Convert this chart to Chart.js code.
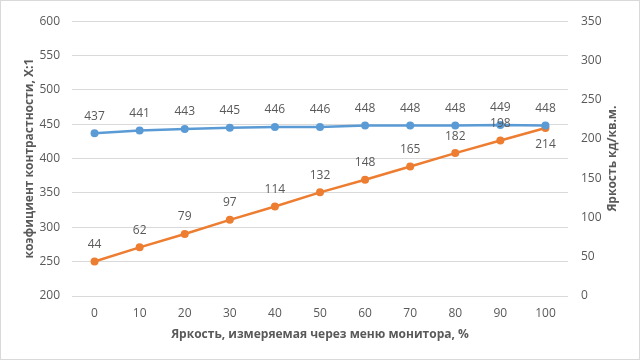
<!DOCTYPE html>
<html>
<head>
<meta charset="utf-8">
<script src="https://cdn.jsdelivr.net/npm/chart.js@4"></script>
<style>
  html, body { margin: 0; padding: 0; background: #fff; }
  #wrap { width: 640px; height: 360px; position: relative; box-sizing: border-box; border: 1px solid #d9d9d9; }
  canvas { display: block; }
</style>
</head>
<body>
<div id="wrap"><canvas id="chart" width="638" height="358"></canvas></div>
<script>
const brightnessSetting = ['0', '10', '20', '30', '40', '50', '60', '70', '80', '90', '100'];
const contrastValues = [437, 441, 443, 445, 446, 446, 448, 448, 448, 449, 448];
const luminanceValues = [44, 62, 79, 97, 114, 132, 148, 165, 182, 198, 214];
// where each label goes: -1 above the point, 1 below
const luminanceLabelSide = [-1, -1, -1, -1, -1, -1, -1, -1, -1, -1, 1];

const textColor = '#595959';
const fontFamily = '"Open Sans", "Noto Sans", sans-serif';
const rightTitle = 'Яркость кд/кв.м.';

// simple value labels next to the points
const pointLabels = {
    id: 'pointLabels',
    afterDatasetsDraw(chart) {
        const ctx = chart.ctx;
        ctx.save();
        ctx.font = '12px ' + fontFamily;
        ctx.fillStyle = textColor;
        ctx.textAlign = 'center';
        ctx.textBaseline = 'middle';
        chart.data.datasets.forEach((ds, i) => {
            const meta = chart.getDatasetMeta(i);
            meta.data.forEach((pt, j) => {
                const side = ds.labelSide ? ds.labelSide[j] : -1;
                ctx.fillText(ds.data[j], pt.x, pt.y + side * 17);
            });
        });
        ctx.restore();
    }
};

// right axis title reads bottom-to-top like the left one
const rightAxisTitle = {
    id: 'rightAxisTitle',
    afterDraw(chart) {
        const ctx = chart.ctx;
        const area = chart.chartArea;
        ctx.save();
        ctx.translate(chart.scales.y2.right - 26, (area.top + area.bottom) / 2);
        ctx.rotate(-Math.PI / 2);
        ctx.font = 'bold 12px ' + fontFamily;
        ctx.fillStyle = textColor;
        ctx.textAlign = 'center';
        ctx.textBaseline = 'middle';
        ctx.fillText(rightTitle, 0, 0);
        ctx.restore();
    }
};

const ctx = document.getElementById('chart').getContext('2d');
const chart = new Chart(ctx, {
    type: 'line',
    data: {
        labels: brightnessSetting,
        datasets: [{
            label: 'Контрастность',
            data: contrastValues,
            yAxisID: 'y',
            borderColor: '#5B9BD5',
            backgroundColor: '#5B9BD5',
            borderWidth: 2.5,
            pointRadius: 4,
            pointBorderWidth: 0
        }, {
            label: 'Яркость',
            data: luminanceValues,
            yAxisID: 'y2',
            labelSide: luminanceLabelSide,
            borderColor: '#ED7D31',
            backgroundColor: '#ED7D31',
            borderWidth: 2.5,
            pointRadius: 4,
            pointBorderWidth: 0
        }]
    },
    options: {
        responsive: false,
        animation: false,
        layout: { padding: { top: 15, left: 0, right: 0, bottom: 0 } },
        plugins: {
            legend: { display: false },
            tooltip: { enabled: false }
        },
        scales: {
            x: {
                offset: true,
                grid: { display: false, drawTicks: false },
                border: { display: false },
                ticks: { color: textColor, font: { family: fontFamily, size: 12 }, padding: 10, maxRotation: 0 },
                title: {
                    display: true,
                    text: 'Яркость, измеряемая через меню монитора, %',
                    color: textColor,
                    font: { family: fontFamily, size: 12, weight: 'bold' },
                    padding: { top: 4, bottom: 17 }
                },
                afterFit: (s) => { s.height = 63; }
            },
            y: {
                position: 'left',
                min: 200,
                max: 600,
                ticks: { stepSize: 50, color: textColor, font: { family: fontFamily, size: 12 }, padding: 12 },
                grid: { color: '#d9d9d9', drawTicks: false },
                border: { display: false },
                title: {
                    display: true,
                    text: 'коэфициент контрастности, Х:1',
                    color: textColor,
                    font: { family: fontFamily, size: 12, weight: 'bold' },
                    padding: { top: 21, bottom: 4 }
                },
                afterFit: (s) => { s.width = 71; }
            },
            y2: {
                position: 'right',
                min: 0,
                max: 350,
                ticks: { stepSize: 50, color: textColor, font: { family: fontFamily, size: 12 }, padding: 13 },
                grid: { display: false, drawTicks: false },
                border: { display: false },
                title: { display: false },
                afterFit: (s) => { s.width = 71; }
            }
        }
    },
    plugins: [pointLabels, rightAxisTitle]
});
</script>
</body>
</html>
